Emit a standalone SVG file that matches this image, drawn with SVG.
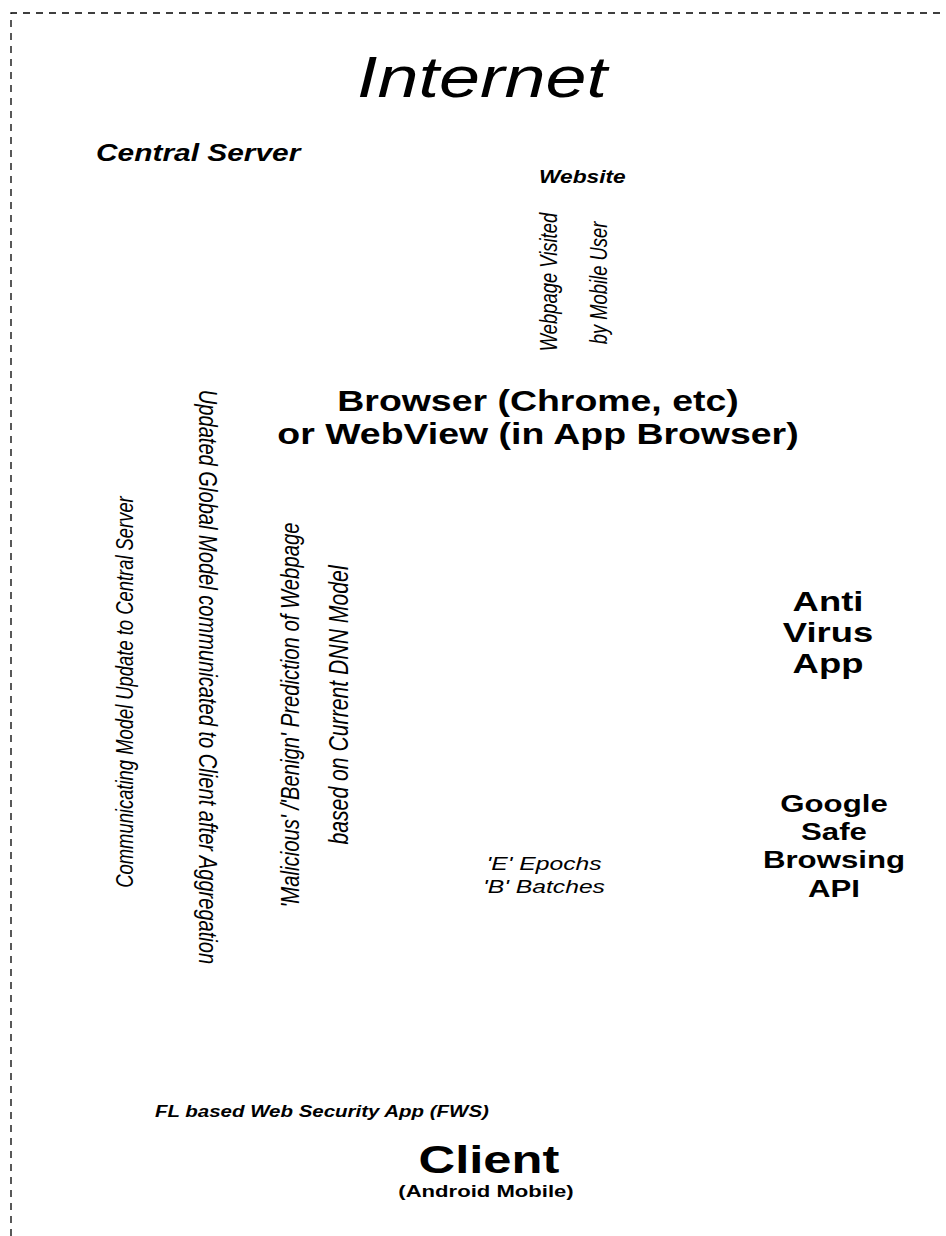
<svg xmlns="http://www.w3.org/2000/svg" width="946" height="1236" viewBox="0 0 946 1236">
  <style>
    text { font-family: "Liberation Sans", Arial, sans-serif; fill: #000; }
    .it { font-style: italic; }
    .b { font-weight: bold; }
    .bi { font-weight: bold; font-style: italic; }
    .mid { text-anchor: middle; }
    .frame { fill: none; stroke: #000; stroke-width: 1.3; stroke-dasharray: 7 6; }
  </style>

  <!-- dashed boundary of the Internet region -->
  <path class="frame" d="M11 1236 V13 H946"/>

  <!-- all lettering is set in a widened face: each label is scaled 1.3x horizontally -->
  <g id="internet">
    <g transform="translate(482,97) scale(1.3,1)"><text class="it mid" font-size="56.7">Internet</text></g>
  </g>

  <g id="central-server">
    <g transform="translate(96,161) scale(1.3,1)"><text class="bi" font-size="23">Central Server</text></g>
  </g>

  <g id="website">
    <g transform="translate(539,183) scale(1.3,1)"><text class="bi" font-size="17.5">Website</text></g>
    <g transform="translate(557,282) scale(1.3,1) rotate(-90)"><text class="it mid" font-size="18.4">Webpage Visited</text></g>
    <g transform="translate(607,283) scale(1.3,1) rotate(-90)"><text class="it mid" font-size="18.4">by Mobile User</text></g>
  </g>

  <g id="browser">
    <g transform="translate(538,0) scale(1.3,1)">
      <text class="b mid" y="411" font-size="28.8">Browser (Chrome, etc)</text>
      <text class="b mid" y="444" font-size="28.8">or WebView (in App Browser)</text>
    </g>
  </g>

  <g id="model-update">
    <g transform="translate(133,692) scale(1.3,1) rotate(-90)"><text class="it mid" font-size="18.4">Communicating Model Update to Central Server</text></g>
  </g>

  <g id="global-model">
    <g transform="translate(199,677) scale(1.3,1) rotate(90)"><text class="it mid" font-size="20.1">Updated Global Model communicated to Client after Aggregation</text></g>
  </g>

  <g id="prediction">
    <g transform="translate(299,715) scale(1.3,1) rotate(-90)"><text class="it mid" font-size="20.3">'Malicious' /'Benign' Prediction of Webpage</text></g>
    <g transform="translate(348,705) scale(1.3,1) rotate(-90)"><text class="it mid" font-size="21.2">based on Current DNN Model</text></g>
  </g>

  <g id="anti-virus">
    <g transform="translate(828,0) scale(1.3,1)">
      <text class="b mid" y="611" font-size="28">Anti</text>
      <text class="b mid" y="642" font-size="28">Virus</text>
      <text class="b mid" y="673" font-size="28">App</text>
    </g>
  </g>

  <g id="safe-browsing">
    <g transform="translate(834,0) scale(1.3,1)">
      <text class="b mid" y="812" font-size="24">Google</text>
      <text class="b mid" y="840" font-size="24">Safe</text>
      <text class="b mid" y="868" font-size="24">Browsing</text>
      <text class="b mid" y="897" font-size="24">API</text>
    </g>
  </g>

  <g id="training">
    <g transform="translate(544,0) scale(1.3,1)">
      <text class="it mid" y="870" font-size="19">'E' Epochs</text>
      <text class="it mid" y="893" font-size="19">'B' Batches</text>
    </g>
  </g>

  <g id="fws">
    <g transform="translate(155,1117) scale(1.28,1)"><text class="bi" font-size="16">FL based Web Security App (FWS)</text></g>
  </g>

  <g id="client">
    <g transform="translate(489,1173) scale(1.3,1)"><text class="b mid" font-size="39">Client</text></g>
    <g transform="translate(486,1197) scale(1.3,1)"><text class="b mid" font-size="17">(Android Mobile)</text></g>
  </g>

  <g id="connectors"/>
</svg>
